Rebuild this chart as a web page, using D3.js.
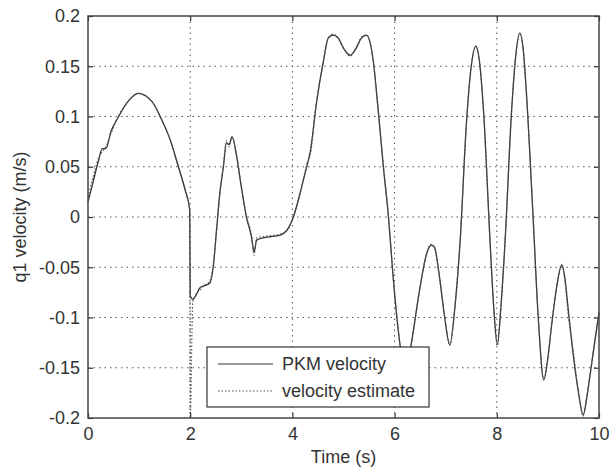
<!DOCTYPE html>
<html>
<head>
<meta charset="utf-8">
<script src="https://cdn.jsdelivr.net/npm/d3@7"></script>
<style>
  body { margin: 0; background: #fff; }
  svg { font-family: "Liberation Sans", Arial, sans-serif; }
</style>
</head>
<body>
<svg id="chart"></svg>
<script>
// time stamps (s) and PKM velocity (m/s)
const time = [0, 0.1, 0.2, 0.28, 0.35, 0.45, 0.6, 0.8, 0.98, 1.25, 1.44, 1.6, 1.77, 1.9, 1.99,
  2.0, 2.05, 2.1, 2.2, 2.3, 2.38, 2.45, 2.52, 2.58, 2.65, 2.71, 2.76, 2.82, 2.91, 3.0, 3.1, 3.2, 3.25, 3.3,
  3.5, 3.76, 3.92, 4.02, 4.2, 4.28, 4.35, 4.47, 4.61, 4.7, 4.8, 4.9, 5.0, 5.13, 5.25, 5.35, 5.45,
  5.58, 5.68, 5.78, 5.88, 5.97, 6.07, 6.15, 6.25, 6.33, 6.5, 6.63, 6.72, 6.78, 6.88, 6.98, 7.08,
  7.18, 7.28, 7.41, 7.5, 7.59, 7.66, 7.74, 7.87, 7.94, 8.01, 8.08, 8.16, 8.29, 8.37, 8.45, 8.52,
  8.58, 8.71, 8.81, 8.92, 9.0, 9.07, 9.17, 9.27, 9.33, 9.4, 9.5, 9.6, 9.69, 9.76, 9.82, 9.9, 10];

const pkmVelocity = [0.015, 0.035, 0.055, 0.068, 0.068, 0.085, 0.100, 0.116, 0.123, 0.115, 0.097, 0.078, 0.050, 0.027, 0.007,
  -0.078, -0.082, -0.079, -0.070, -0.068, -0.066, -0.050, -0.010, 0.024, 0.050, 0.074, 0.072, 0.080, 0.060, 0.030, 0.000, -0.020, -0.035, -0.023,
  -0.020, -0.018, -0.011, 0.000, 0.034, 0.050, 0.065, 0.113, 0.156, 0.178, 0.181, 0.178, 0.168, 0.161, 0.168, 0.178, 0.181,
  0.156, 0.106, 0.050, 0.000, -0.059, -0.112, -0.140, -0.148, -0.125, -0.069, -0.036, -0.028, -0.030, -0.060, -0.100, -0.127,
  -0.090, -0.026, 0.097, 0.150, 0.170, 0.155, 0.106, -0.026, -0.090, -0.127, -0.090, -0.026, 0.106, 0.160, 0.183, 0.165,
  0.123, 0.000, -0.099, -0.162, -0.140, -0.109, -0.070, -0.048, -0.060, -0.093, -0.139, -0.175, -0.197, -0.180, -0.159, -0.130, -0.095];

// velocity estimate, same time stamps, spikes down at t = 2 s
const velocityEstimate = [0.020, 0.040, 0.058, 0.065, 0.070, 0.083, 0.101, 0.116, 0.123, 0.115, 0.097, 0.078, 0.050, 0.027, 0.007,
  -0.200, -0.085, -0.078, -0.072, -0.067, -0.064, -0.048, -0.012, 0.022, 0.052, 0.076, 0.070, 0.079, 0.061, 0.031, 0.001, -0.018, -0.038, -0.021,
  -0.019, -0.017, -0.012, 0.001, 0.033, 0.052, 0.062, 0.114, 0.155, 0.178, 0.182, 0.177, 0.168, 0.160, 0.169, 0.179, 0.181,
  0.157, 0.105, 0.051, 0.001, -0.058, -0.111, -0.141, -0.148, -0.126, -0.070, -0.035, -0.027, -0.031, -0.061, -0.099, -0.128,
  -0.089, -0.025, 0.096, 0.151, 0.169, 0.156, 0.105, -0.027, -0.091, -0.128, -0.089, -0.025, 0.107, 0.161, 0.182, 0.166,
  0.122, 0.001, -0.100, -0.161, -0.141, -0.108, -0.071, -0.047, -0.062, -0.098, -0.135, -0.176, -0.198, -0.179, -0.158, -0.131, -0.096];

const xTicks = [0, 2, 4, 6, 8, 10];
const yTicks = [-0.2, -0.15, -0.1, -0.05, 0, 0.05, 0.1, 0.15, 0.2];
const seriesNames = ["PKM velocity", "velocity estimate"];

const W = 610, H = 476;
const margin = { top: 16, right: 11, bottom: 58, left: 88 };
const width = W - margin.left - margin.right;
const height = H - margin.top - margin.bottom;
const ink = "#333";

const svg = d3.select("#chart").attr("width", W).attr("height", H);
const g = svg.append("g").attr("transform", `translate(${margin.left},${margin.top})`);

const x = d3.scaleLinear().domain([0, 10]).range([0, width]);
const y = d3.scaleLinear().domain([-0.2, 0.2]).range([height, 0]);

// dotted grid
g.append("g").selectAll("line").data(xTicks.slice(1, -1)).join("line")
  .attr("x1", d => x(d)).attr("x2", d => x(d)).attr("y1", 0).attr("y2", height)
  .attr("stroke", "#555").attr("stroke-width", 1).attr("stroke-dasharray", "1.5,4");
g.append("g").selectAll("line").data(yTicks.slice(1, -1)).join("line")
  .attr("y1", d => y(d)).attr("y2", d => y(d)).attr("x1", 0).attr("x2", width)
  .attr("stroke", "#555").attr("stroke-width", 1).attr("stroke-dasharray", "1.5,4");

// curves
const est = time.map((t, i) => [t, velocityEstimate[i]]);
const pkm = time.map((t, i) => [t, pkmVelocity[i]]);
const line = d3.line().x(d => x(d[0])).y(d => y(d[1])).curve(d3.curveMonotoneX);

g.append("path").datum(pkm).attr("d", line)
  .attr("fill", "none").attr("stroke", ink).attr("stroke-width", 1.3);
g.append("path").datum(est).attr("d", line)
  .attr("fill", "none").attr("stroke", "#555").attr("stroke-width", 1.2).attr("stroke-dasharray", "1.5,2");

// axes with inward ticks on all four sides (plain hyphen minus, like MATLAB)
const fmt = d => String(d);
const axB = g.append("g").attr("transform", `translate(0,${height})`)
  .call(d3.axisBottom(x).tickValues(xTicks).tickSize(-5).tickPadding(9).tickFormat(fmt));
const axT = g.append("g").call(d3.axisTop(x).tickValues(xTicks).tickSize(-5).tickFormat(""));
const axL = g.append("g").call(d3.axisLeft(y).tickValues(yTicks).tickSize(-5).tickPadding(8).tickFormat(fmt));
const axR = g.append("g").attr("transform", `translate(${width},0)`)
  .call(d3.axisRight(y).tickValues(yTicks).tickSize(-5).tickFormat(""));

[axB, axT, axL, axR].forEach(a => {
  a.select(".domain").remove();
  a.selectAll(".tick line").attr("stroke", ink).attr("stroke-width", 1.2);
  a.selectAll("text").attr("fill", ink).attr("font-size", 18).attr("font-family", "Liberation Sans, Arial, sans-serif");
});
axB.selectAll("text").attr("dy", "0.71em");

g.append("rect").attr("width", width).attr("height", height)
  .attr("fill", "none").attr("stroke", "#444").attr("stroke-width", 1.5);

// axis labels
svg.append("text").attr("x", margin.left + width / 2).attr("y", 463)
  .attr("text-anchor", "middle").attr("font-size", 18).attr("fill", ink).text("Time (s)");
svg.append("text").attr("transform", `translate(26,${margin.top + height / 2}) rotate(-90)`)
  .attr("text-anchor", "middle").attr("font-size", 18).attr("fill", ink).text("q1 velocity (m/s)");

// legend
const lg = svg.append("g").attr("transform", "translate(207,347)");
lg.append("rect").attr("width", 222).attr("height", 60)
  .attr("fill", "#fff").attr("stroke", ink).attr("stroke-width", 1.2);
const rows = lg.selectAll("g.row").data(seriesNames).join("g")
  .attr("class", "row").attr("transform", (d, i) => `translate(0,${17 + i * 27})`);
rows.append("line").attr("x1", 11).attr("x2", 66)
  .attr("stroke", (d, i) => i ? "#555" : ink).attr("stroke-width", 1.2)
  .attr("stroke-dasharray", (d, i) => i ? "1.5,2" : null);
rows.append("text").attr("x", 75).attr("dy", "0.35em")
  .attr("font-size", 18).attr("fill", ink).text(d => d);
</script>
</body>
</html>
